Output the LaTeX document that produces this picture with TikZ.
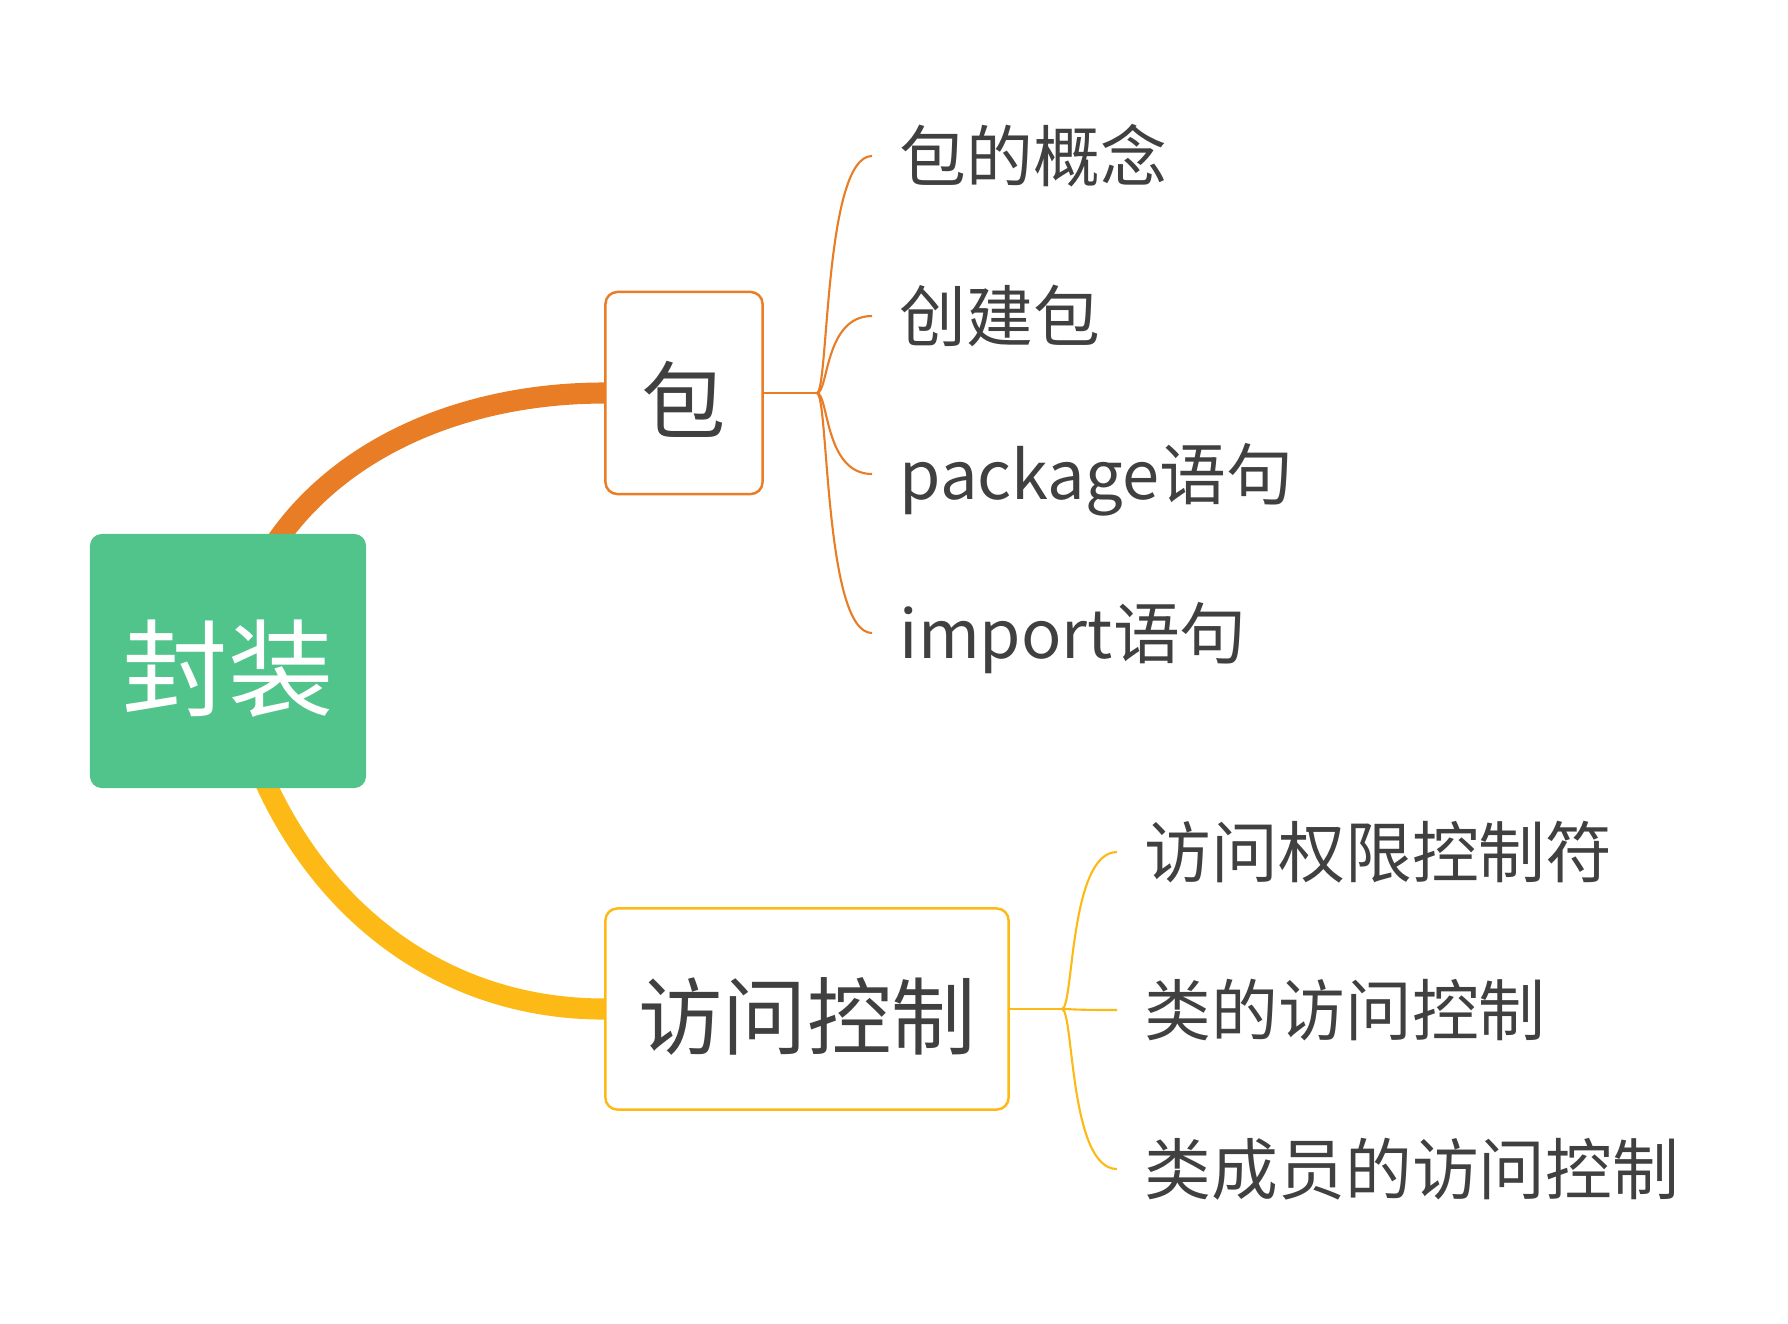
\documentclass[tikz,border=0pt]{standalone}
\usepackage{fontspec}
\newfontfamily\cjk{Noto Sans CJK SC}
\usetikzlibrary{positioning, backgrounds}
\definecolor{rootgreen}{HTML}{51C48C}
\definecolor{pkgorange}{HTML}{E87D25}
\definecolor{accyellow}{HTML}{FDB915}
\definecolor{textgray}{HTML}{404040}

\begin{document}
\begin{tikzpicture}[
  x=0.01cm, y=-0.01cm,
  every node/.style={font=\cjk, text=textgray},
  rootbox/.style={fill=rootgreen, rounded corners=3.4pt, minimum width=2.76cm,
    minimum height=2.54cm, text=white, text height=28.6pt, text depth=1.4pt,
    font=\cjk\fontsize{30}{30}\selectfont},
  topic/.style={draw=#1, fill=white, line width=0.7pt, rounded corners=3.4pt,
    minimum height=2.01cm, text height=23.1pt, text depth=0.9pt,
    font=\cjk\fontsize{24}{24}\selectfont},
  leaf/.style={anchor=west, inner xsep=2.7mm, inner ysep=0pt, text height=16.7pt,
    text depth=2.3pt, font=\cjk\fontsize{19}{19}\selectfont},
  trunk/.style={draw=#1, line width=6pt},
  twig/.style={draw=#1, line width=0.6pt}
]
  \useasboundingbox (0,0) rectangle (1788,1323);

  % central topic and the two branches
  \node[rootbox] (root) at (228,661) {封装};
  \node[topic=pkgorange, minimum width=1.57cm, minimum height=2.02cm] (pkg) at (684,393) {包};
  \node[topic=accyellow, minimum width=4.03cm] (acc) at (807,1009) {访问控制};

  \begin{scope}[on background layer]
    \draw[trunk=pkgorange] (root.center) to[out=80, in=180] (pkg.west);
    \draw[trunk=accyellow] (root.center) to[out=-80, in=180] (acc.west);
  \end{scope}

  % leaves of 包
  \coordinate (pkgfork) at ([xshift=0.53cm]pkg.east);
  \foreach \name/\y/\txt in {a/156/包的概念, b/316/创建包, c/474/package语句, d/633/import语句} {
    \node[leaf] (pkg\name) at (872,\y) {\txt};
    \draw[twig=pkgorange] (pkgfork) .. controls +(12,0) and +(-48,0) .. (pkg\name.west);
  }
  \draw[twig=pkgorange] (pkg.east) -- (pkgfork);

  % leaves of 访问控制
  \coordinate (accfork) at ([xshift=0.52cm]acc.east);
  \foreach \name/\y/\txt in {a/852/访问权限控制符, b/1010/类的访问控制, c/1169/类成员的访问控制} {
    \node[leaf] (acc\name) at (1117,\y) {\txt};
    \draw[twig=accyellow] (accfork) .. controls +(12,0) and +(-48,0) .. (acc\name.west);
  }
  \draw[twig=accyellow] (acc.east) -- (accfork);
\end{tikzpicture}
\end{document}
